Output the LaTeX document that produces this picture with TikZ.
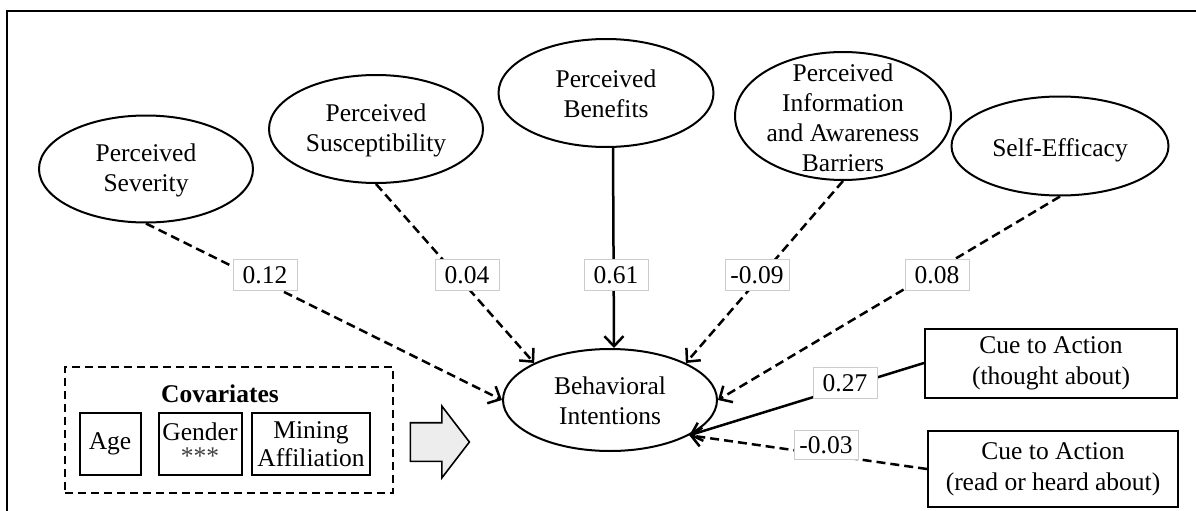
\documentclass[tikz,border=0pt]{standalone}
\usepackage{fontspec}
\setmainfont{Liberation Serif}
\usetikzlibrary{shapes.geometric,shapes.arrows,arrows.meta}
\tikzset{
  lat/.style={ellipse, draw, line width=2pt, inner sep=0pt},
  txt/.style={align=center, inner sep=0pt, font=\fontsize{25.5}{30}\selectfont},
  obs/.style={draw, line width=2pt, inner sep=0pt, align=center, font=\fontsize{25.5}{31}\selectfont},
  lab/.style={draw=gray!40, line width=1pt, fill=white, minimum width=64pt, minimum height=31pt, inner sep=0pt, font=\fontsize{25.5}{30}\selectfont},
  arr/.style={-{Straight Barb[length=10pt,width=19pt,line width=2.5pt]}, line width=2.5pt},
  dsh/.style={dash pattern=on 9pt off 5pt},
  cov/.style={draw, line width=2pt, inner sep=0pt, align=center, font=\fontsize{25.5}{28}\selectfont}
}
\begin{document}
\begin{tikzpicture}[x=1pt,y=-1pt]
\useasboundingbox (0,0) rectangle (1196,511);
% frame
\coordinate (fr1) at (1196,11);
\coordinate (fr2) at (7,11);
\coordinate (fr3) at (7,511);
\draw[line width=2.8pt] (fr1) -- (fr2) -- (fr3);

% latent ellipses
\node[lat, minimum width=214pt, minimum height=107pt] (sev) at (146,169) {};
\node[txt] (sevt) at (146,170) {Perceived\\Severity};
\node[lat, minimum width=214pt, minimum height=108pt] (sus) at (376,129) {};
\node[txt] (sust) at (376,130) {Perceived\\Susceptibility};
\node[lat, minimum width=215pt, minimum height=108pt] (ben) at (606,93) {};
\node[txt] (bent) at (606,94) {Perceived\\Benefits};
\node[lat, minimum width=216pt, minimum height=128pt] (ib) at (843,116) {};
\node[txt] (ibt) at (843,118) {Perceived\\Information\\and Awareness\\Barriers};
\node[lat, minimum width=217pt, minimum height=99pt] (se) at (1060,146) {};
\node[txt] (set) at (1060,150) {Self-Efficacy};
\node[lat, minimum width=214pt, minimum height=102pt] (bi) at (610,400) {};
\node[txt] (bit) at (610,401) {Behavioral\\Intentions};

% cue boxes
\node[obs, minimum width=252pt, minimum height=69pt] (ct) at (1051,363) {Cue to Action\\(thought about)};
\node[obs, minimum width=250pt, minimum height=76pt] (cr) at (1053,469) {Cue to Action\\(read or heard about)};

% covariates
\node[draw, line width=1.8pt, dash pattern=on 8pt off 5pt, minimum width=328pt, minimum height=126pt, inner sep=0pt] (covbox) at (229,430) {};
\node[txt, font=\fontsize{25.5}{30}\selectfont\bfseries] (covt) at (220,394) {Covariates};
\node[cov, minimum width=61pt, minimum height=62pt] (age) at (110,444) {Age};
\node[cov, minimum width=83pt, minimum height=62pt] (gen) at (200,444) {Gender\\[-4pt]{\color{black!75}***}};
\node[cov, minimum width=118pt, minimum height=62pt] (min) at (311,444) {Mining\\Affiliation};
\node[single arrow, draw, line width=1.6pt, fill=gray!14, inner xsep=0pt, inner ysep=18.5pt,
      minimum height=59pt, single arrow head extend=16.5pt, single arrow tip angle=105] (blk) at (432.5,442) {};

% paths
\draw[arr, dsh] (sev.south) -- (bi.west);
\draw[arr, dsh] (sus.south) -- (bi.154);
\draw[arr] ([xshift=7pt]ben.south) -- ([xshift=4pt]bi.north);
\draw[arr, dsh] (ib.south) -- (bi.26);
\draw[arr, dsh] (se.south) -- (bi.east);
\draw[arr] (ct.west) -- (bi.-24);
\draw[arr, dsh] (cr.west) -- (bi.-24);

% coefficient labels
\node[lab] (l1) at (265,275) {0.12};
\node[lab] (l2) at (467,275) {0.04};
\node[lab] (l3) at (616,275) {0.61};
\node[lab] (l4) at (757,275) {-0.09};
\node[lab] (l5) at (937,275) {0.08};
\node[lab] (l6) at (845,383) {0.27};
\node[lab, minimum height=29pt] (l7) at (826,445) {-0.03};
\end{tikzpicture}
\end{document}
